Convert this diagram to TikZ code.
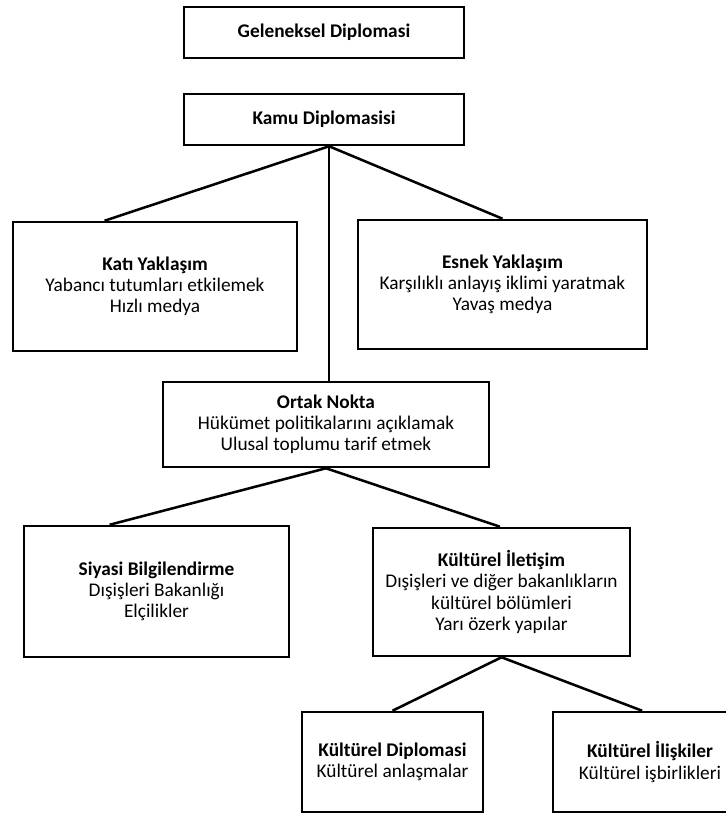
\documentclass[tikz,border=0pt]{standalone}
\usepackage{fontspec}
\setmainfont{Carlito}
\usetikzlibrary{calc}
\begin{document}
\begin{tikzpicture}[x=0.75pt,y=-0.75pt,
  box/.style={draw=black,line width=1.9pt,rectangle,inner sep=0pt,align=center,
    font=\fontsize{14.5}{15.9}\selectfont,fill=white},
  link/.style={draw=black,line width=1.9pt}]
\useasboundingbox (0,0) rectangle (725,814);
\fill[white] (0,0) rectangle (725,814);
\node[box,minimum width=280*0.75pt,minimum height=51*0.75pt] (gel) at (324,32.5) {\textbf{Geleneksel Diplomasi}};
\node[box,minimum width=280*0.75pt,minimum height=51*0.75pt] (kamu) at (324,119.5) {\textbf{Kamu Diplomasisi}};
\node[box,minimum width=284*0.75pt,minimum height=129*0.75pt] (kati) at (155,286.5) {\textbf{Katı Yaklaşım}\\Yabancı tutumları etkilemek\\Hızlı medya};
\node[box,minimum width=289*0.75pt,minimum height=129*0.75pt] (esnek) at (502.5,284.5) {\textbf{Esnek Yaklaşım}\\Karşılıklı anlayış iklimi yaratmak\\Yavaş medya};
\node[box,minimum width=326*0.75pt,minimum height=85*0.75pt] (ortak) at (326,424.5) {\textbf{Ortak Nokta}\\Hükümet politikalarını açıklamak\\Ulusal toplumu tarif etmek};
\node[box,minimum width=265*0.75pt,minimum height=131*0.75pt] (siyasi) at (156.5,591.5) {\textbf{Siyasi Bilgilendirme}\\Dışişleri Bakanlığı\\Elçilikler};
\node[box,minimum width=257*0.75pt,minimum height=128*0.75pt] (ki) at (501.5,592) {\textbf{Kültürel İletişim}\\Dışişleri ve diğer bakanlıkların\\kültürel bölümleri\\Yarı özerk yapılar};
\node[box,minimum width=181*0.75pt,minimum height=100*0.75pt] (kd) at (392.5,762) {\textbf{Kültürel Diplomasi}\\Kültürel anlaşmalar};
\node[box,minimum width=194*0.75pt,minimum height=100*0.75pt] (kil) at (650,762) {\textbf{Kültürel İlişkiler}\\Kültürel işbirlikleri};
\coordinate (kamuj) at ($(kamu.south west)!0.518!(kamu.south east)$);
\draw[link] (kamuj) -- ($(kati.north west)!0.324!(kati.north east)$);
\draw[link] (kamuj) -- (esnek.north);
\draw[link] (kamuj) -- (kamuj |- ortak.north);
\draw[link] (ortak.south) -- ($(siyasi.north west)!0.325!(siyasi.north east)$);
\draw[link] (ortak.south) -- ($(ki.north west)!0.494!(ki.north east)$);
\draw[link] (ki.south) -- (kd.north);
\draw[link] (ki.south) -- ($(kil.north west)!0.46!(kil.north east)$);
\end{tikzpicture}
\end{document}
